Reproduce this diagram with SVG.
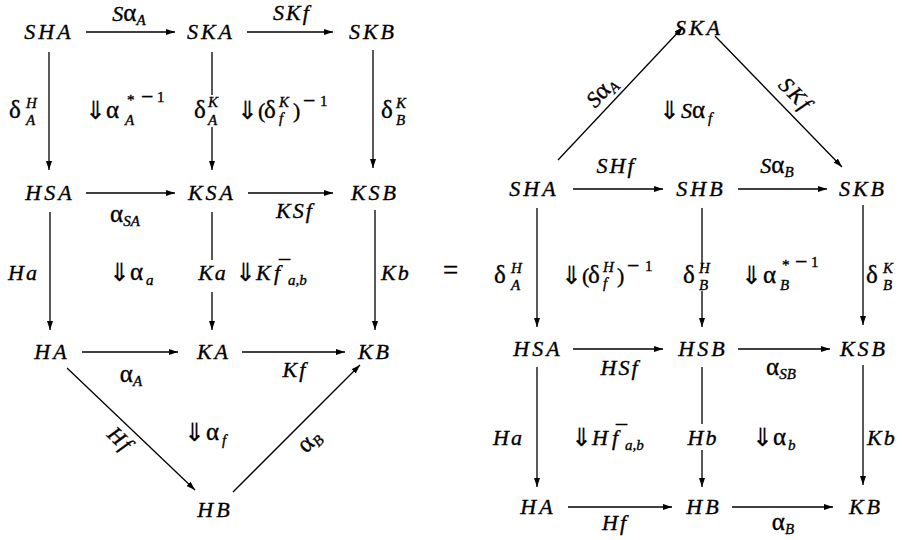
<svg xmlns="http://www.w3.org/2000/svg" width="902" height="540" viewBox="0 0 902 540">
<style>
text { font-family: "Liberation Serif", "Times New Roman", serif; font-size: 22px; font-style: italic; fill: #000; stroke: #000; stroke-width: 0.35px; }
.nd { letter-spacing: 3px; text-anchor: middle; }
.m { text-anchor: middle; }
.ls { letter-spacing: 2px; }
.g { font-style: normal; font-size: 25px; }
.u { font-style: normal; }
.s { font-size: 15px; letter-spacing: 0; }
.mn { font-style: normal; font-size: 22px; }
.ar { font-family: "DejaVu Sans", sans-serif; font-style: normal; font-size: 25px; stroke-width: 0.2px; }
.e { fill: none; stroke: #000; stroke-width: 1.3; marker-end: url(#ah); }
</style>
<defs>
<marker id="ah" viewBox="0 0 9 6" refX="9" refY="3" markerWidth="9" markerHeight="6" markerUnits="userSpaceOnUse" orient="auto">
<path d="M0,0 L9,3 L0,6 z" fill="#000"/>
</marker>
</defs>
<rect width="902" height="540" fill="#fff"/>

<g id="connectors">
<path class="e" d="M86,32 H175"/>
<path class="e" d="M247,32 H333"/>
<path class="e" d="M49,52 V170"/>
<path class="e" d="M212,52 V95 M212,127 V170"/>
<path class="e" d="M373,50 V168"/>
<path class="e" d="M86,193 H175"/>
<path class="e" d="M248,193 H333"/>
<path class="e" d="M50,212 V330"/>
<path class="e" d="M212,212 V260 M212,292 V330"/>
<path class="e" d="M375,210 V330"/>
<path class="e" d="M82,352 H178"/>
<path class="e" d="M242,352 H345"/>
<path class="e" d="M67,368 L195,490"/>
<path class="e" d="M233,492 L360,365"/>

<path class="e" d="M558,160 L683,27"/>
<path class="e" d="M715,36 L842,167"/>
<path class="e" d="M573,189 H663"/>
<path class="e" d="M738,189 H827"/>
<path class="e" d="M537,208 V327"/>
<path class="e" d="M702,208 V269 M702,291 V327"/>
<path class="e" d="M863,205 V325"/>
<path class="e" d="M573,349 H663"/>
<path class="e" d="M738,349 H830"/>
<path class="e" d="M537,367 V487"/>
<path class="e" d="M702,367 V424 M702,450 V487"/>
<path class="e" d="M863,365 V485"/>
<path class="e" d="M568,507 H672"/>
<path class="e" d="M732,507 H833"/>
</g>

<g id="connector-labels">
<text class="m" x="129" y="21">S<tspan class="g">α</tspan><tspan class="s" dy="4">A</tspan></text>
<text class="m ls" x="292" y="20">SKf</text>
<text x="9" y="118"><tspan class="g">δ</tspan><tspan class="s" x="26" y="108">H</tspan><tspan class="s" x="26" y="125">A</tspan></text>
<text x="194" y="118"><tspan class="g">δ</tspan><tspan class="s" x="208" y="107">K</tspan><tspan class="s" x="208" y="125">A</tspan></text>
<text x="381" y="118"><tspan class="g">δ</tspan><tspan class="s" x="396" y="108">K</tspan><tspan class="s" x="396" y="125">B</tspan></text>
<text class="m" x="125" y="222"><tspan class="g">α</tspan><tspan class="s" dy="4">SA</tspan></text>
<text class="m ls" x="295" y="218">KSf</text>
<text class="ls" x="8" y="280">Ha</text>
<text class="m ls" x="213" y="280">Ka</text>
<text class="ls" x="381" y="280">Kb</text>
<text class="m" x="131" y="382"><tspan class="g">α</tspan><tspan class="s" dy="4">A</tspan></text>
<text class="m ls" x="295" y="377">Kf</text>
<text class="m ls" transform="translate(130.7,428.7) rotate(43.6)" x="0" y="22">Hf</text>
<text class="m" transform="translate(296.5,428.5) rotate(-45)" x="0" y="25"><tspan class="g">α</tspan><tspan class="s" dy="4">B</tspan></text>

<text class="m" transform="translate(612.4,102.1) rotate(-46.8)" x="0" y="-8">S<tspan class="g">α</tspan><tspan class="s" dy="4">A</tspan></text>
<text class="m ls" transform="translate(783.3,106.4) rotate(45.9)" x="0" y="-10">SKf</text>
<text class="m ls" x="616" y="173">SHf</text>
<text class="m" x="777" y="173">S<tspan class="g">α</tspan><tspan class="s" dy="4">B</tspan></text>
<text x="494" y="283"><tspan class="g">δ</tspan><tspan class="s" x="511" y="273">H</tspan><tspan class="s" x="511" y="290">A</tspan></text>
<text x="683" y="283"><tspan class="g">δ</tspan><tspan class="s" x="699" y="273">H</tspan><tspan class="s" x="699" y="290">B</tspan></text>
<text x="866" y="283"><tspan class="g">δ</tspan><tspan class="s" x="883" y="273">K</tspan><tspan class="s" x="883" y="290">B</tspan></text>
<text class="m ls" x="620" y="375">HSf</text>
<text class="m" x="781" y="375"><tspan class="g">α</tspan><tspan class="s" dy="4">SB</tspan></text>
<text class="ls" x="493" y="445">Ha</text>
<text class="m ls" x="703" y="445">Hb</text>
<text class="ls" x="867" y="445">Kb</text>
<text class="m ls" x="615" y="530">Hf</text>
<text class="m" x="783" y="530"><tspan class="g">α</tspan><tspan class="s" dy="4">B</tspan></text>
</g>

<g id="cells">
<text x="85" y="119"><tspan class="ar">⇓</tspan><tspan class="g" x="106" y="118">α</tspan><tspan class="s u" x="127" y="105">*</tspan><tspan class="mn" x="141" y="104">−</tspan><tspan class="s u" x="157" y="102">1</tspan><tspan class="s" x="125" y="125">A</tspan></text>
<text x="237" y="119"><tspan class="ar">⇓</tspan><tspan class="u" x="258" y="118">(</tspan><tspan class="g" x="264">δ</tspan><tspan class="s" x="279" y="107">K</tspan><tspan class="s" x="279" y="123">f</tspan><tspan class="u" x="293" y="118">)</tspan><tspan class="mn" x="303" y="108">−</tspan><tspan class="s u" x="320" y="106">1</tspan></text>
<text x="109" y="281"><tspan class="ar">⇓</tspan><tspan class="g" x="130" y="280">α</tspan><tspan class="s" x="146" y="285">a</tspan></text>
<text x="235" y="281"><tspan class="ar">⇓</tspan><tspan x="256" y="280">K</tspan><tspan x="274">f</tspan><tspan class="u" x="279" y="275">¯</tspan><tspan class="s ls" x="288" y="285">a,b</tspan></text>
<text x="184" y="441"><tspan class="ar">⇓</tspan><tspan class="g" x="206" y="440">α</tspan><tspan class="s" x="222" y="445">f</tspan></text>
<text class="u" x="443" y="279" style="font-size:27px">=</text>

<text x="659" y="119"><tspan class="ar">⇓</tspan><tspan x="681" y="118">S</tspan><tspan class="g" x="692">α</tspan><tspan class="s" x="708" y="123">f</tspan></text>
<text x="561" y="284"><tspan class="ar">⇓</tspan><tspan class="u" x="582" y="283">(</tspan><tspan class="g" x="588">δ</tspan><tspan class="s" x="603" y="272">H</tspan><tspan class="s" x="603" y="288">f</tspan><tspan class="u" x="617" y="283">)</tspan><tspan class="mn" x="627" y="273">−</tspan><tspan class="s u" x="645" y="271">1</tspan></text>
<text x="741" y="284"><tspan class="ar">⇓</tspan><tspan class="g" x="763" y="283">α</tspan><tspan class="s u" x="782" y="270">*</tspan><tspan class="mn" x="795" y="269">−</tspan><tspan class="s u" x="811" y="267">1</tspan><tspan class="s" x="780" y="290">B</tspan></text>
<text x="571" y="446"><tspan class="ar">⇓</tspan><tspan x="592" y="445">H</tspan><tspan x="612">f</tspan><tspan class="u" x="616" y="440">¯</tspan><tspan class="s ls" x="625" y="450">a,b</tspan></text>
<text x="752" y="446"><tspan class="ar">⇓</tspan><tspan class="g" x="773" y="445">α</tspan><tspan class="s" x="788" y="450">b</tspan></text>
</g>

<g id="nodes">
<g id="l-SHA"><text class="nd" x="49" y="39">SHA</text></g>
<g id="l-SKA"><text class="nd" x="211" y="39">SKA</text></g>
<g id="l-SKB"><text class="nd" x="373" y="39">SKB</text></g>
<g id="l-HSA"><text class="nd" x="50" y="200">HSA</text></g>
<g id="l-KSA"><text class="nd" x="212" y="200">KSA</text></g>
<g id="l-KSB"><text class="nd" x="375" y="200">KSB</text></g>
<g id="l-HA"><text class="nd" x="52" y="359">HA</text></g>
<g id="l-KA"><text class="nd" x="214" y="359">KA</text></g>
<g id="l-KB"><text class="nd" x="375" y="359">KB</text></g>
<g id="l-HB"><text class="nd" x="215" y="517">HB</text></g>

<g id="r-SKA"><text class="nd" x="699" y="35">SKA</text></g>
<g id="r-SHA"><text class="nd" x="534" y="196">SHA</text></g>
<g id="r-SHB"><text class="nd" x="701" y="196">SHB</text></g>
<g id="r-SKB"><text class="nd" x="863" y="196">SKB</text></g>
<g id="r-HSA"><text class="nd" x="538" y="356">HSA</text></g>
<g id="r-HSB"><text class="nd" x="703" y="356">HSB</text></g>
<g id="r-KSB"><text class="nd" x="864" y="356">KSB</text></g>
<g id="r-HA"><text class="nd" x="538" y="514">HA</text></g>
<g id="r-HB"><text class="nd" x="704" y="514">HB</text></g>
<g id="r-KB"><text class="nd" x="866" y="514">KB</text></g>
</g>
</svg>
